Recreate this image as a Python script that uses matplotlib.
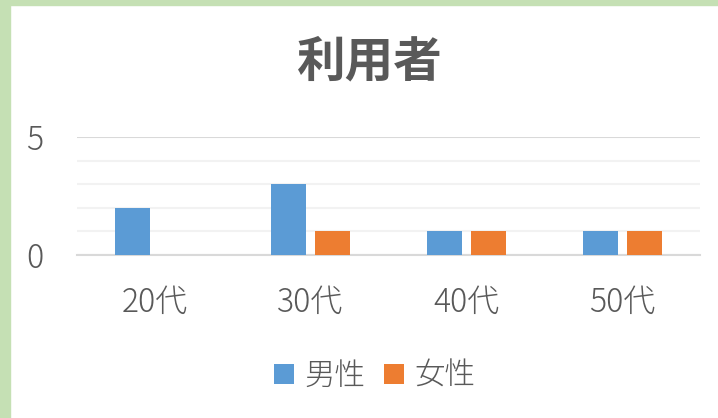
import matplotlib
matplotlib.use("Agg")
import matplotlib.pyplot as plt
import numpy as np
from matplotlib.patches import Rectangle

plt.rcParams['font.family'] = ['Noto Sans CJK JP', 'DejaVu Sans']

categories = ["20代", "30代", "40代", "50代"]
male = [2, 3, 1, 1]
female = [0, 1, 1, 1]
series_names = ["男性", "女性"]
yticks = [0, 5]

blue = "#5B9BD5"
orange = "#ED7D31"
text_c = "#595959"

fig = plt.figure(figsize=(7.18, 4.18), dpi=100)
fig.patch.set_facecolor("white")
# green frame
fig.patches.append(Rectangle((0, 0), 10/718, 1, transform=fig.transFigure, color="#C5E0B4", zorder=0))
fig.patches.append(Rectangle((0, 1-5/418), 1, 5/418, transform=fig.transFigure, color="#C5E0B4", zorder=0))

ax = fig.add_axes([77/718, 1-255/418, (700-77)/718, (255-137)/418])
x = np.arange(len(categories))
w = 0.225
off = 0.141
b1 = ax.bar(x - off, male, w, color=blue, label=series_names[0], zorder=3)
b2 = ax.bar(x + off, female, w, color=orange, label=series_names[1], zorder=3)

ax.set_xlim(-0.5, len(categories) - 0.5)
ax.set_ylim(0, 5)
ax.set_yticks(yticks)
ax.set_yticks([1, 2, 3, 4], minor=True)
ax.grid(axis='y', which='major', color="#D9D9D9", linewidth=1.5, zorder=0)
ax.grid(axis='y', which='minor', color="#F2F2F2", linewidth=1.5, zorder=0)
ax.set_xticks(x)
ax.set_xticklabels(categories)
for s in ["top", "right", "left"]:
    ax.spines[s].set_visible(False)
ax.spines["bottom"].set_color("#D9D9D9")
ax.spines["bottom"].set_linewidth(1.5)
ax.tick_params(axis='both', which='both', length=0, colors=text_c, labelsize=23)
ax.tick_params(axis='y', pad=24)
ax.tick_params(axis='x', pad=22)
for lab in ax.get_xticklabels() + ax.get_yticklabels():
    lab.set_fontweight("light")

fig.text(370/718, 1-62/418, "利用者", ha="center", va="center", fontsize=35, fontweight="bold", color=text_c)

leg = fig.legend(handles=[b1, b2], labels=series_names, loc="center", bbox_to_anchor=(375/718, 1-376/418),
                 ncol=2, frameon=False, prop={"size": 22, "weight": "light"}, handlelength=0.65, handleheight=0.65,
                 handletextpad=0.35, columnspacing=0.6, labelcolor=text_c)

fig.savefig("out.png", dpi=100, facecolor="white")
